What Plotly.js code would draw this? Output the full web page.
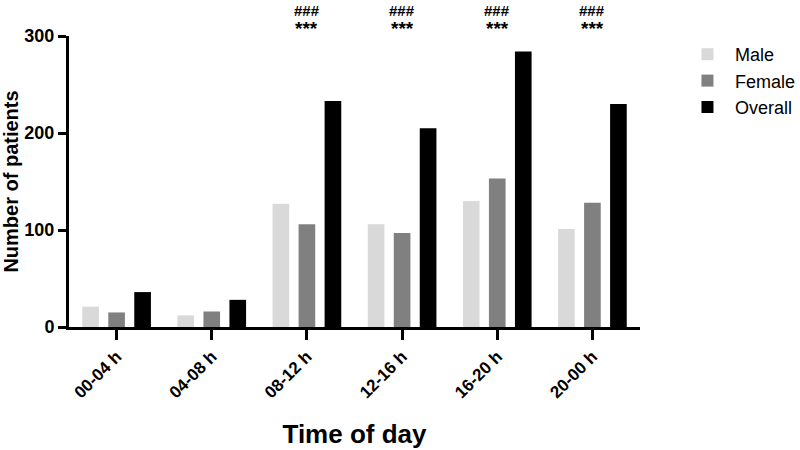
<!DOCTYPE html>
<html>
<head>
<meta charset="utf-8">
<script src="https://cdn.plot.ly/plotly-3.0.1.min.js"></script>
<style>
  html, body { margin: 0; padding: 0; background: #fff; }
  #chart { width: 800px; height: 450px; }
</style>
</head>
<body>
<div id="chart"></div>
<script>
/* patients by time of day — grouped bars, Prism style */

const categories = ['00-04 h', '04-08 h', '08-12 h', '12-16 h', '16-20 h', '20-00 h'];
const male    = [21, 12, 127, 106, 130, 101];
const female  = [15, 16, 106,  97, 153, 128];
const overall = [36, 28, 233, 205, 284, 230];

// significance marks above each group ('' = none)
const sigHash = ['', '', '###', '###', '###', '###'];
const sigStar = ['', '', '***', '***', '***', '***'];

const FONT = 'Liberation Sans, Arial, Helvetica, sans-serif';

const traces = [
  { name: 'Male',    y: male,    color: '#d9d9d9' },
  { name: 'Female',  y: female,  color: '#808080' },
  { name: 'Overall', y: overall, color: '#000000' },
].map(s => ({
  type: 'bar',
  x: categories,
  y: s.y,
  name: s.name,
  marker: { color: s.color, line: { width: 0 } },
  hoverinfo: 'x+y+name',
}));

// significance annotations, centred on each group
const annotations = [];
categories.forEach((c, i) => {
  if (sigHash[i]) annotations.push({
    x: c, xref: 'x', y: 1.089, yref: 'paper', yanchor: 'middle',
    text: sigHash[i], showarrow: false,
    font: { family: FONT, size: 15, weight: 'bold', color: '#000' },
  });
  if (sigStar[i]) annotations.push({
    x: c, xref: 'x', y: 1.026, yref: 'paper', yanchor: 'middle',
    text: sigStar[i], showarrow: false,
    font: { family: FONT, size: 19, weight: 'bold', color: '#000' },
  });
});

const layout = {
  width: 800,
  height: 450,
  paper_bgcolor: '#fff',
  plot_bgcolor: '#fff',
  font: { family: FONT, color: '#000' },
  margin: { t: 36, b: 123, l: 69, r: 160, autoexpand: false },
  barmode: 'group',
  bargap: 0.18,
  bargroupgap: 0.36,
  showlegend: true,
  legend: {
    x: 1.07, y: 1.0, xanchor: 'left', yanchor: 'top',
    font: { family: FONT, size: 18, color: '#000' },
    bgcolor: 'rgba(0,0,0,0)',
    itemwidth: 45,
    tracegroupgap: 4,
  },
  xaxis: {
    type: 'category',
    range: [-0.5, 5.5],
    showline: true, linecolor: '#000', linewidth: 3,
    ticks: 'outside', ticklen: 10, tickwidth: 3, tickcolor: '#000',
    tickangle: -45,
    tickfont: { family: FONT, size: 17, weight: 'bold', color: '#000' },
    showgrid: false, zeroline: false,
    title: {
      text: 'Time of day',
      font: { family: FONT, size: 26, weight: 'bold', color: '#000' },
      standoff: 24,
    },
  },
  yaxis: {
    range: [0, 300],
    tickvals: [0, 100, 200, 300],
    showline: true, linecolor: '#000', linewidth: 3,
    ticks: 'outside', ticklen: 8, tickwidth: 3, tickcolor: '#000',
    tickfont: { family: FONT, size: 18, weight: 'bold', color: '#000' },
    showgrid: false, zeroline: false,
    title: {
      text: 'Number of patients',
      font: { family: FONT, size: 20, weight: 'bold', color: '#000' },
      standoff: 11,
    },
  },
  annotations,
};

Plotly.newPlot('chart', traces, layout, { displayModeBar: false, responsive: false });
</script>
</body>
</html>
